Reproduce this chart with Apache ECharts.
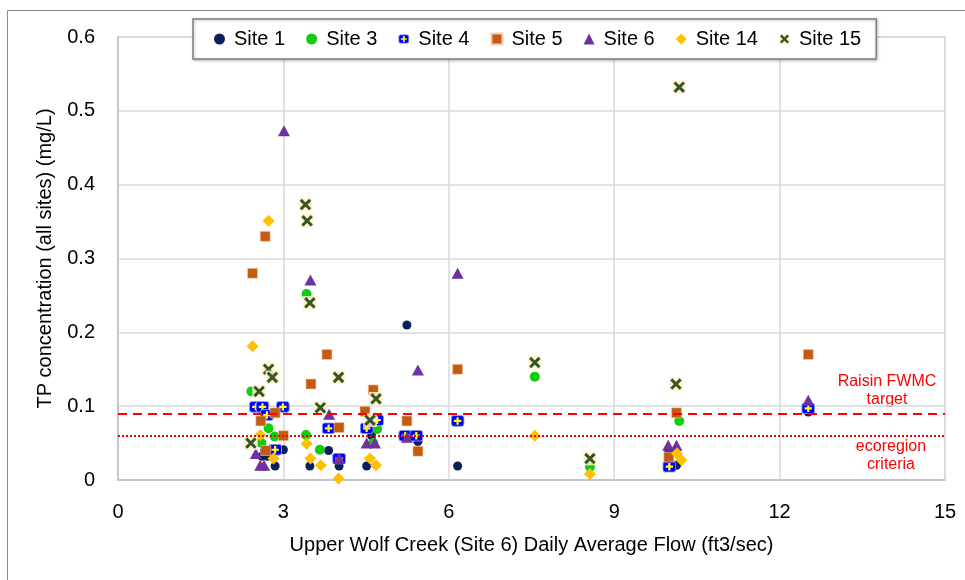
<!DOCTYPE html>
<html>
<head>
<meta charset="utf-8">
<script src="https://cdn.jsdelivr.net/npm/echarts@6/dist/echarts.min.js"></script>
<style>
    html, body { margin: 0; padding: 0; background: #fff; }
    #main { width: 965px; height: 580px; }
</style>
</head>
<body>
<div id="main"></div>
<script>
    // [flow ft3/sec, TP mg/L]
    const site1 = [[2.61, 0.032], [2.71, 0.032], [2.85, 0.019], [3.0, 0.041], [2.66, 0.04],
        [3.48, 0.019], [3.82, 0.04], [4.01, 0.019], [4.51, 0.019], [4.6, 0.06], [5.24, 0.21],
        [5.44, 0.052], [6.16, 0.019], [9.99, 0.04], [10.13, 0.02], [12.52, 0.092]]
    const site3 = [[2.42, 0.12], [2.73, 0.07], [2.84, 0.059], [2.6, 0.05], [3.42, 0.252],
        [3.41, 0.061], [3.66, 0.041], [4.7, 0.069], [4.63, 0.05], [7.56, 0.14], [8.56, 0.018],
        [10.18, 0.08]]
    const site4 = [[2.5, 0.099], [2.62, 0.099], [2.99, 0.099], [2.7, 0.088], [2.85, 0.041],
        [3.82, 0.07], [4.01, 0.029], [4.51, 0.07], [4.7, 0.081], [5.21, 0.06], [5.41, 0.06],
        [6.16, 0.08], [10.0, 0.018], [12.52, 0.097]]
    const site5 = [[2.44, 0.28], [2.67, 0.33], [2.85, 0.091], [2.59, 0.08], [3.0, 0.06],
        [2.68, 0.04], [3.5, 0.13], [3.79, 0.17], [4.01, 0.071], [4.48, 0.093], [4.63, 0.122],
        [5.24, 0.08], [5.44, 0.039], [6.16, 0.15], [9.99, 0.031], [10.13, 0.091], [12.52, 0.17]]
    const site6 = [[2.5, 0.036], [2.65, 0.02], [2.58, 0.02], [3.01, 0.473], [3.49, 0.271],
        [3.83, 0.089], [4.01, 0.029], [4.51, 0.05], [4.66, 0.05], [5.24, 0.058], [5.44, 0.149],
        [6.16, 0.28], [9.98, 0.047], [10.13, 0.047], [12.52, 0.108]]
    const site14 = [[2.44, 0.181], [2.73, 0.351], [2.58, 0.061], [2.82, 0.029], [3.42, 0.049],
        [3.49, 0.029], [3.68, 0.02], [4.0, 0.002], [4.57, 0.029], [4.68, 0.02], [7.56, 0.06],
        [8.56, 0.008], [10.14, 0.036], [10.22, 0.027]]
    const site15 = [[2.41, 0.05], [2.56, 0.12], [2.73, 0.15], [2.8, 0.139], [3.4, 0.373],
        [3.43, 0.351], [3.48, 0.24], [3.67, 0.098], [4.0, 0.139], [4.57, 0.081], [4.68, 0.11],
        [7.56, 0.159], [8.56, 0.029], [10.12, 0.13], [10.18, 0.532]]

    const siteNames = ['Site 1', 'Site 3', 'Site 4', 'Site 5', 'Site 6', 'Site 14', 'Site 15']
    const xTicks = [0, 3, 6, 9, 12, 15]
    const yTicks = [0, 0.1, 0.2, 0.3, 0.4, 0.5, 0.6]
    const targetValue = 0.09      // Raisin FWMC target
    const criteriaValue = 0.06    // ecoregion criteria

    const FONT = "'Liberation Sans', Arial, sans-serif"

    function svgSymbol(svg) {
        return 'image://data:image/svg+xml;charset=utf-8,' + encodeURIComponent(svg)
    }
    const site4Icon = svgSymbol(
        "<svg xmlns='http://www.w3.org/2000/svg' width='28' height='24' viewBox='0 0 14 12'>" +
        "<rect x='0.6' y='0.6' width='12.8' height='10.8' rx='2.5' fill='#0000ff' stroke='#8aa2ff' stroke-width='1'/>" +
        "<path d='M7 2.3V9.7M3.3 6H10.7' stroke='#ffff00' stroke-width='2.2'/></svg>")
    const site15Icon = svgSymbol(
        "<svg xmlns='http://www.w3.org/2000/svg' width='28' height='28' viewBox='0 0 14 14'>" +
        "<rect x='0' y='0' width='14' height='14' fill='#fff2cc' fill-opacity='0.85'/>" +
        "<path d='M2.3 2.3L11.7 11.7M11.7 2.3L2.3 11.7' stroke='#375623' stroke-width='3'/></svg>")

    let chart = echarts.init(document.getElementById('main'))

    chart.setOption({
        backgroundColor: '#fff',
        animation: false,
        grid: { left: 118, right: 20, top: 37, bottom: 100, show: true, borderColor: '#d9d9d9', borderWidth: 1.5 },
        legend: {
            data: siteNames,
            left: 193,
            top: 19,
            padding: [10, 15, 10, 21],
            itemGap: 21,
            itemWidth: 11,
            itemHeight: 11,
            backgroundColor: '#fff',
            borderColor: '#7f7f7f',
            borderWidth: 1.5,
            shadowColor: 'rgba(0,0,0,0.25)',
            shadowBlur: 3,
            shadowOffsetX: 1,
            shadowOffsetY: 1,
            textStyle: { fontFamily: FONT, fontSize: 20, color: '#000', padding: [0, 0, 0, 4] }
        },
        xAxis: {
            type: 'value',
            min: xTicks[0],
            max: xTicks[xTicks.length - 1],
            interval: xTicks[1] - xTicks[0],
            name: 'Upper Wolf Creek (Site 6) Daily Average Flow (ft3/sec)',
            nameLocation: 'middle',
            nameGap: 55,
            nameTextStyle: { fontFamily: FONT, fontSize: 20, color: '#000' },
            axisLine: { lineStyle: { color: '#bfbfbf', width: 1.5 } },
            axisTick: { show: false },
            axisLabel: { margin: 22, fontFamily: FONT, fontSize: 20, color: '#000' },
            splitLine: { lineStyle: { color: '#d9d9d9', width: 1.5 } }
        },
        yAxis: {
            type: 'value',
            min: yTicks[0],
            max: yTicks[yTicks.length - 1],
            interval: 0.1,
            name: 'TP concentration (all sites) (mg/L)',
            nameLocation: 'middle',
            nameGap: 63,
            nameTextStyle: { fontFamily: FONT, fontSize: 20, color: '#000' },
            axisLine: { show: true, lineStyle: { color: '#bfbfbf', width: 1.5 } },
            axisTick: { show: false },
            axisLabel: { margin: 23, fontFamily: FONT, fontSize: 20, color: '#000' },
            splitLine: { lineStyle: { color: '#d9d9d9', width: 1.5 } }
        },
        graphic: [
            { type: 'rect', silent: true, shape: { x: 7.5, y: 10.5, width: 1000, height: 1000 },
              style: { fill: 'none', stroke: '#8c8c8c', lineWidth: 1 } },
            { type: 'text', x: 887, y: 382, style: { text: 'Raisin FWMC', fill: '#ff0000', font: '16px ' + FONT, textAlign: 'center', textVerticalAlign: 'middle' } },
            { type: 'text', x: 887, y: 400, style: { text: 'target', fill: '#ff0000', font: '16px ' + FONT, textAlign: 'center', textVerticalAlign: 'middle' } },
            { type: 'text', x: 891, y: 447, style: { text: 'ecoregion', fill: '#ff0000', font: '16px ' + FONT, textAlign: 'center', textVerticalAlign: 'middle' } },
            { type: 'text', x: 891, y: 465, style: { text: 'criteria', fill: '#ff0000', font: '16px ' + FONT, textAlign: 'center', textVerticalAlign: 'middle' } }
        ],
        series: [
            {
                name: 'Site 1', type: 'scatter', data: site1,
                symbol: 'circle', symbolSize: 9,
                itemStyle: { color: '#0b1f5c', opacity: 1 },
                markLine: {
                    silent: true, symbol: 'none', label: { show: false },
                    data: [
                        { yAxis: targetValue, lineStyle: { color: '#ff0000', width: 2, type: [9, 6] } },
                        { yAxis: criteriaValue, lineStyle: { color: '#ff0000', width: 2, type: [2, 2] } }
                    ]
                }
            },
            { name: 'Site 3', type: 'scatter', data: site3, symbol: 'circle', symbolSize: 10,
              itemStyle: { color: '#11cc11', opacity: 1 } },
            { name: 'Site 4', type: 'scatter', data: site4, symbol: site4Icon, symbolSize: [14, 12],
              itemStyle: { opacity: 1 } },
            { name: 'Site 5', type: 'scatter', data: site5, symbol: 'rect', symbolSize: 10,
              itemStyle: { color: '#c55a11', borderColor: '#f3cfb5', borderWidth: 0.6, opacity: 1 } },
            { name: 'Site 6', type: 'scatter', data: site6, symbol: 'triangle', symbolSize: [12, 11],
              itemStyle: { color: '#7030a0', opacity: 1 } },
            { name: 'Site 14', type: 'scatter', data: site14, symbol: 'diamond', symbolSize: 12,
              itemStyle: { color: '#ffc000', opacity: 1 } },
            { name: 'Site 15', type: 'scatter', data: site15, symbol: site15Icon, symbolSize: 14,
              itemStyle: { opacity: 1 } }
        ]
    })
</script>
</body>
</html>
